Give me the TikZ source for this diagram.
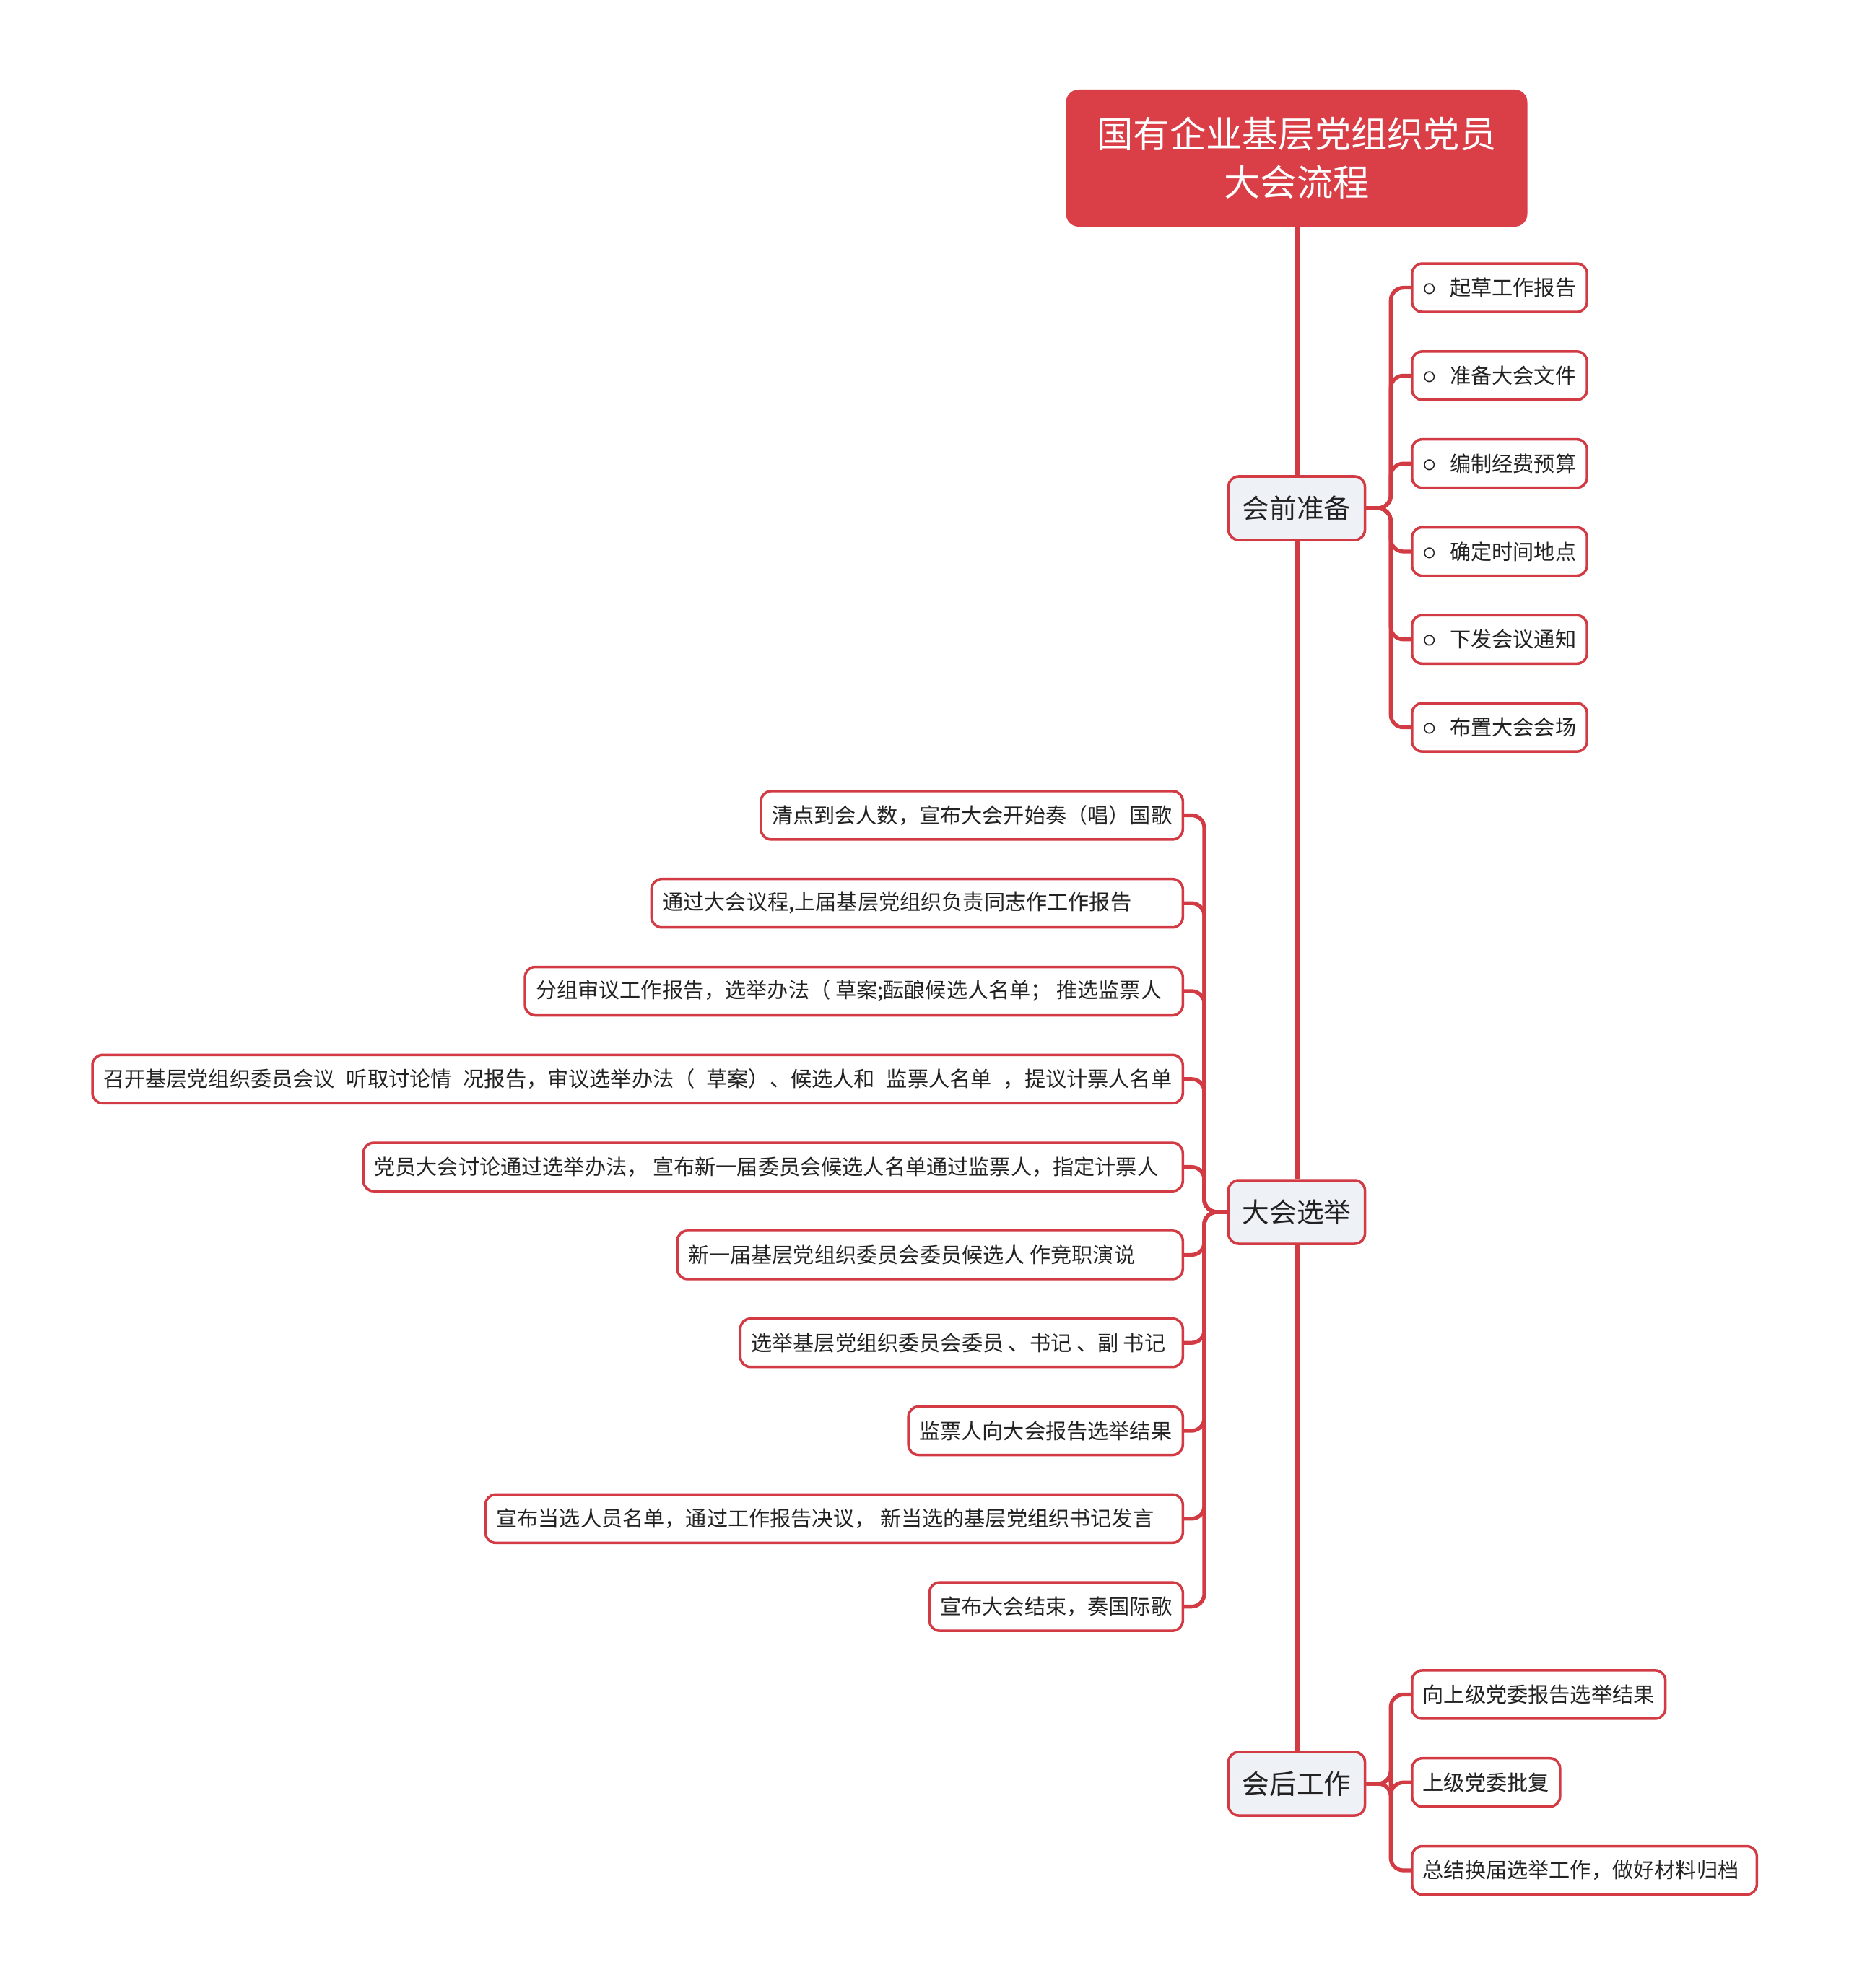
\documentclass[tikz,border=0pt]{standalone}
\usepackage{fontspec}
\setmainfont{Noto Sans CJK SC}
\usepackage{tikz}
\usetikzlibrary{positioning}
\definecolor{rootred}{HTML}{DA3F48}
\definecolor{linered}{HTML}{D23A44}
\definecolor{paleblue}{HTML}{EEF1F6}
\definecolor{ink}{HTML}{222222}
\newcommand{\wsp}{\hspace{.16cm}}
\newcommand{\tail}[1]{\hspace{#1}\null}
\tikzset{topic/.style={draw=linered,fill=paleblue,line width=1pt,rounded corners=4pt,minimum width=1.89cm,minimum height=.88cm,inner sep=0pt,text=ink,font=\fontsize{10.7}{12}\selectfont},
  leaf/.style={draw=linered,fill=white,line width=1pt,rounded corners=4pt,minimum height=.67cm,inner xsep=.15cm,inner ysep=0pt,text=ink,font=\fontsize{8.3}{10}\selectfont},
  trunk/.style={linered,line width=2pt},
  link/.style={linered,line width=1.5pt,rounded corners=5pt}}
\begin{document}
\begin{tikzpicture}
\useasboundingbox (0,0) rectangle (25.6,-27.54);
\node[fill=rootred,rounded corners=5pt,minimum width=6.39cm,minimum height=1.9cm,align=center,text=white,font=\fontsize{14.3}{19}\selectfont] (root) at (17.96,-2.19) {国有企业基层党组织党员\\大会流程};
\node[topic] (prep) at (17.96,-7.04) {会前准备};
\node[topic] (elect) at (17.96,-16.79) {大会选举};
\node[topic] (post) at (17.96,-24.71) {会后工作};
\draw[trunk] (root) -- (prep) (prep) -- (elect) (elect) -- (post);
\foreach \k/\t in {0/起草工作报告,1/准备大会文件,2/编制经费预算,3/确定时间地点,4/下发会议通知,5/布置大会会场} {
 \node[leaf,anchor=west] (p\k) at (19.54,-3.986-1.218*\k) {\scalebox{1.3}{$\circ$}\hspace{.18cm}\t};
 \draw[link] (prep.east) -- ++(.34,0) |- (p\k.west);
}
\foreach \k/\t in {6/清点到会人数，宣布大会开始奏（唱）国歌,
 7/{通过大会议程,上届基层党组织负责同志作工作报告\tail{.56cm}},
 8/分组审议工作报告，选举办法（ 草案;酝酿候选人名单； 推选监票人\tail{.14cm},
 9/召开基层党组织委员会议\wsp 听取讨论情\wsp 况报告，审议选举办法（\wsp 草案）、候选人和\wsp 监票人名单\wsp ，提议计票人名单,
 10/党员大会讨论通过选举办法， 宣布新一届委员会候选人名单通过监票人，指定计票人\tail{.19cm},
 11/新一届基层党组织委员会委员候选人 作竞职演说\tail{.51cm},
 12/选举基层党组织委员会委员 、书记 、副 书记\tail{.09cm},
 13/监票人向大会报告选举结果,
 14/宣布当选人员名单，通过工作报告决议， 新当选的基层党组织书记发言\tail{.25cm},
 15/宣布大会结束，奏国际歌} {
 \node[leaf,anchor=east] (e\k) at (16.4,-3.986-1.218*\k) {\t};
 \draw[link] (e\k.east) -- ++(.28,0) |- (elect.west);
}
\foreach \k/\t in {16/向上级党委报告选举结果,17/上级党委批复,18/总结换届选举工作，做好材料归档\tail{.1cm}} {
 \node[leaf,anchor=west] (a\k) at (19.54,-3.986-1.218*\k) {\t};
 \draw[link] (post.east) -- ++(.34,0) |- (a\k.west);
}
\end{tikzpicture}
\end{document}
